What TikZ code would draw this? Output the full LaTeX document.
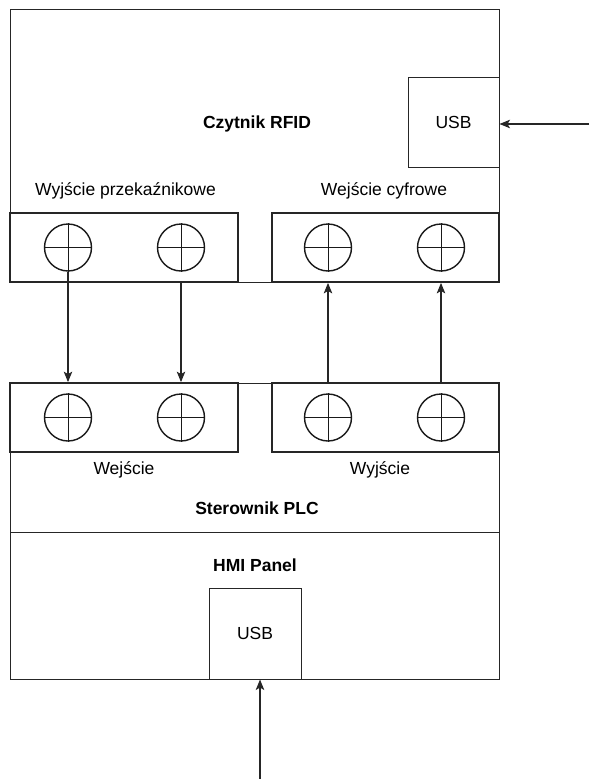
\documentclass[tikz,border=0pt]{standalone}
\usepackage{fontspec}
\setmainfont{Liberation Sans}
\usetikzlibrary{arrows.meta}
\begin{document}
\begin{tikzpicture}[x=1pt,y=-1pt,
  box/.style={draw=black!85, rectangle, inner sep=0pt, line width=1pt},
  tb/.style={draw=black!85, fill=white, rectangle, inner sep=0pt, line width=1.8pt, minimum width=228pt, minimum height=69pt},
  term/.style={draw=black!90, circle, inner sep=0pt, minimum size=47pt, line width=1.4pt},
  lbl/.style={anchor=base, inner sep=0pt, font=\fontsize{17.5}{20}\selectfont},
  blbl/.style={lbl, font=\fontsize{17.5}{20}\selectfont\bfseries},
  arr/.style={draw=black!85, line width=1.1pt, -{Stealth[length=10.5pt,width=8.5pt,inset=2.5pt]}}]
\useasboundingbox (0,0) rectangle (589,779);
% main boxes
\node[box, minimum width=489pt, minimum height=273pt] (rfid) at (254.5,145.5) {};
\node[box, minimum width=91pt, minimum height=90pt] (usb1) at (453.5,122) {};
\node[box, minimum width=489pt, minimum height=149pt] (plc) at (254.5,457.5) {};
\node[box, minimum width=489pt, minimum height=147pt] (hmi) at (254.5,605.5) {};
\node[box, minimum width=92pt, minimum height=91pt] (usb2) at (255,633.5) {};
% terminal blocks
\node[tb] (tb1) at (124,247.5) {};
\node[tb, minimum width=227pt] (tb2) at (385.5,247.5) {};
\node[tb] (tb3) at (124,417.5) {};
\node[tb, minimum width=227pt] (tb4) at (385.5,417.5) {};
% terminals
\foreach \n/\x/\y in {c1/68/247.5, c2/181/247.5, c3/328/247.5, c4/441/247.5,
                      c5/68/417.5, c6/181/417.5, c7/328/417.5, c8/441/417.5} {
  \node[term] (\n) at (\x,\y) {};
  \draw[black!90, line width=0.9pt] (\n.north) -- (\n.south) (\n.west) -- (\n.east);
}
% labels
\node[blbl] (t1) at (257,128.5) {Czytnik RFID};
\node[lbl] (t2) at (453.5,128.5) {USB};
\node[lbl] (t3) at (125.5,195) {Wyjście przekaźnikowe};
\node[lbl] (t4) at (384,195) {Wejście cyfrowe};
\node[lbl] (t5) at (124,474) {Wejście};
\node[lbl] (t6) at (380,474) {Wyjście};
\node[blbl] (t7) at (257,514) {Sterownik PLC};
\node[blbl] (t8) at (255,571.5) {HMI Panel};
\node[lbl] (t9) at (255,639) {USB};
% connectors
\draw[arr] (c1.south) -- (c5 |- tb3.north);
\draw[arr] (c2 |- tb1.south) -- (c6 |- tb3.north);
\draw[arr] (c7 |- tb4.north) -- (c3 |- tb2.south);
\draw[arr] (c8 |- tb4.north) -- (c4 |- tb2.south);
\coordinate (in1) at (589,124);
\coordinate (in2) at (260,779);
\draw[arr] (in1) -- (in1 -| usb1.east);
\draw[arr] (in2) -- (in2 |- hmi.south);
\end{tikzpicture}
\end{document}
